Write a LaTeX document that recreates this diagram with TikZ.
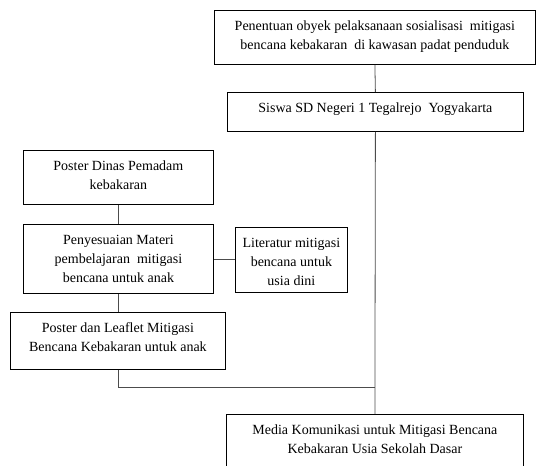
\documentclass[tikz,border=0pt]{standalone}
\usepackage{fontspec}
\setmainfont{Liberation Serif}
\newcommand\bxt[3]{\parbox[t][#2][t]{#1}{\centering\fontsize{14}{19}\selectfont\rule{0pt}{20pt}#3\par}}
\tikzset{
  box/.style={draw=black, line width=0.8pt, inner sep=0pt, anchor=north west},
  conn/.style={draw=black!70, line width=0.8pt}
}
\begin{document}
\begin{tikzpicture}[x=1pt,y=-1pt]
\useasboundingbox (0,0) rectangle (536,466);
\clip (0,0) rectangle (536,466);
\node[box] (top) at (214,10) {\bxt{321pt}{54pt}{Penentuan obyek pelaksanaan sosialisasi\ \ mitigasi\\ bencana kebakaran\ \ di kawasan padat penduduk}};
\node[box] (siswa) at (227,92) {\bxt{296pt}{39pt}{Siswa SD Negeri 1 Tegalrejo\ \ Yogyakarta}};
\node[box] (posterd) at (23,150) {\bxt{190pt}{54pt}{Poster Dinas Pemadam\\ kebakaran}};
\node[box] (penyes) at (23,224) {\bxt{190pt}{69pt}{Penyesuaian Materi\\ pembelajaran\ \ mitigasi\\ bencana untuk anak}};
\node[box] (lit) at (235,227) {\bxt{112pt}{65pt}{Literatur mitigasi\\ bencana untuk\\ usia dini}};
\node[box] (leaflet) at (10,312) {\bxt{215pt}{57pt}{Poster dan Leaflet Mitigasi\\ Bencana Kebakaran untuk anak}};
\node[box] (media) at (226,414) {\bxt{297pt}{70pt}{Media Komunikasi untuk Mitigasi Bencana\\ Kebakaran Usia Sekolah Dasar}};
\coordinate (join) at (374.5,387);
\draw[conn] (top.south) -- (siswa.north);
\draw[conn] (siswa.south) -- (media.north);
\draw[conn] (posterd.south) -- (penyes.north);
\draw[conn] (penyes.east) -- (lit.west |- penyes.east);
\draw[conn] (penyes.south) -- (leaflet.north -| penyes.south);
\draw[conn] (leaflet.south) |- (join);
\end{tikzpicture}
\end{document}
